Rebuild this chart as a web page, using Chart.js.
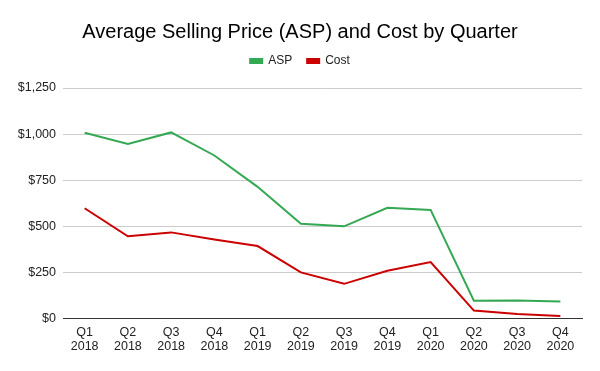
<!DOCTYPE html>
<html><head><meta charset="utf-8">
<script src="https://cdn.jsdelivr.net/npm/chart.js@4/dist/chart.umd.min.js"></script>
<style>html,body{margin:0;padding:0;background:#fff}#wrap{width:600px;height:371px}</style>
</head><body><div id="wrap"><canvas id="c"></canvas></div>
<script>
const categories = [['Q1','2018'],['Q2','2018'],['Q3','2018'],['Q4','2018'],['Q1','2019'],['Q2','2019'],['Q3','2019'],['Q4','2019'],['Q1','2020'],['Q2','2020'],['Q3','2020'],['Q4','2020']];
const aspValues = [1007, 947, 1009, 884, 714, 514, 500, 600, 589, 96, 98, 92];
const costValues = [598, 446, 467, 429, 393, 250, 188, 259, 306, 43, 24, 14];
const yTicks = [0, 250, 500, 750, 1000, 1250];

Chart.defaults.font.family = '"Liberation Sans", Arial, sans-serif';
Chart.defaults.color = '#222';
const legendGap = {
  id: 'legendGap',
  beforeInit(chart) {
    const fit = chart.legend.fit;
    chart.legend.fit = function() { fit.call(this); this.height += 3; };
  },
  afterLayout(chart) {
    chart.legend.top -= 8;
    chart.legend.bottom -= 8;
  }
};
new Chart(document.getElementById('c'), {
  type: 'line',
  data: {
    labels: categories,
    datasets: [
      {label: 'ASP', data: aspValues, borderColor: '#34a853', backgroundColor: '#34a853', borderWidth: 2, pointRadius: 0, tension: 0},
      {label: 'Cost', data: costValues, borderColor: '#cc0000', backgroundColor: '#cc0000', borderWidth: 2, pointRadius: 0, tension: 0}
    ]
  },
  options: {
    responsive: true, maintainAspectRatio: false, animation: false,
    layout: {padding: {left: 18, right: 18, top: 0, bottom: 11}},
    plugins: {
      title: {display: true, text: 'Average Selling Price (ASP) and Cost by Quarter', color: '#000', font: {size: 20, weight: 'normal'}, padding: {top: 20, bottom: 4}},
      legend: {labels: {boxWidth: 12, boxHeight: 4, font: {size: 12}, padding: 15}},
      tooltip: {enabled: false}
    },
    scales: {
      x: {offset: true, grid: {display: false, drawTicks: false}, border: {display: true, color: '#333', width: 1}, ticks: {font: {size: 12.5, lineHeight: 1.1}, maxRotation: 0, autoSkip: false, padding: 7}},
      y: {min: 0, max: 1250, afterBuildTicks: (ax) => { ax.ticks = yTicks.map(v => ({value: v})); },
          afterFit: (ax) => { ax.width = 45; },
          grid: {color: '#ccc', drawTicks: false}, border: {display: false},
          ticks: {font: {size: 12.5}, padding: 7, callback: v => '$' + v.toLocaleString('en-US')}}
    }
  },
  plugins: [legendGap]
});
</script></body></html>
